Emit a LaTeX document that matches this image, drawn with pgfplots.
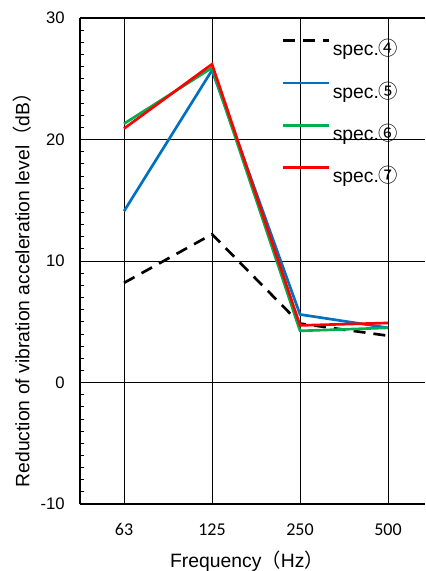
\documentclass[border=0pt]{standalone}
\usepackage{fontspec}
\setmainfont{Liberation Sans}
\newfontfamily\cjk{Noto Sans CJK JP}
\newfontfamily\calibri{Carlito}
\usepackage{pgfplots}
\pgfplotsset{compat=1.18}
\definecolor{cblue}{HTML}{0070C0}
\definecolor{cgreen}{HTML}{00B050}
\definecolor{cred}{HTML}{FF0000}
\begin{document}
\begin{tikzpicture}
\path[use as bounding box] (-60pt,-50.25pt) rectangle (258.75pt,378pt);
\begin{axis}[
  at={(0,0)}, anchor=south west,
  scale only axis, width=258.75pt, height=364.5pt,
  xmin=-0.5, xmax=3.42, ymin=-10, ymax=30,
  axis x line*=box, axis y line*=left,
  axis line style={-, line width=0.9pt},
  xtick={0,1,2,3}, xticklabels={63,125,250,500},
  ytick={-10,0,10,20,30},
  minor y tick num=9,
  tick align=inside,
  minor tick length=3pt, major tick length=3pt,
  tick style={black, line width=0.6pt},
  grid=major,
  major grid style={black, line width=0.7pt},
  /pgf/number format/assume math mode=true,
  xticklabel style={font=\calibri\fontsize{13.5}{15}\selectfont, yshift=-11pt},
  yticklabel style={font=\fontsize{12.5}{15}\selectfont, xshift=-8pt},
  xlabel={Frequency{\cjk （}Hz{\cjk ）}},
  ylabel={Reduction of vibration acceleration level{\cjk （}dB{\cjk ）}},
  label style={font=\fontsize{14.5}{17}\selectfont},
  xlabel style={at={(axis description cs:0.484,-0.117)}, anchor=center},
  ylabel style={at={(axis description cs:-0.168,0.45)}, anchor=center},
  legend style={draw=none, fill=none, at={(0.585,0.962)}, anchor=north west,
    font=\fontsize{14.5}{17}\selectfont, row sep=14pt, column sep=0pt,
    inner sep=0pt, cells={anchor=west}},
  legend image code/.code={\draw[#1] (0pt,6pt) -- (34pt,6pt);},
]
\addplot[black, line width=2pt, dash pattern=on 9pt off 6pt] coordinates {(0,8.2)(1,12.2)(2,4.85)(3,3.85)};
\addlegendentry{spec.{\cjk ④}}
\addplot[cblue, line width=2pt] coordinates {(0,14.1)(1,25.7)(2,5.6)(3,4.5)};
\addlegendentry{spec.{\cjk ⑤}}
\addplot[cgreen, line width=2pt] coordinates {(0,21.3)(1,25.9)(2,4.25)(3,4.5)};
\addlegendentry{spec.{\cjk ⑥}}
\addplot[cred, line width=2pt] coordinates {(0,20.9)(1,26.2)(2,4.7)(3,4.9)};
\addlegendentry{spec.{\cjk ⑦}}
\end{axis}
\end{tikzpicture}
\end{document}
